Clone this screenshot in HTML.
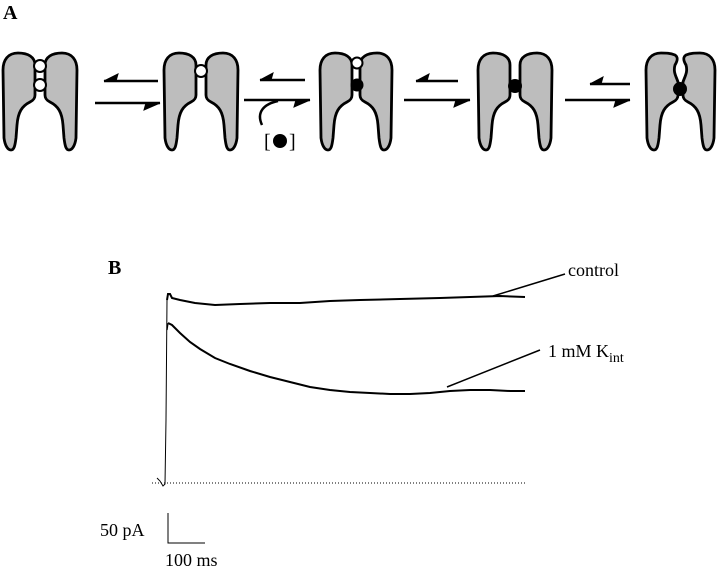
<!DOCTYPE html>
<html><head><style>html,body{margin:0;padding:0;background:#fff;width:720px;height:570px;overflow:hidden}</style></head>
<body>
<svg width="720" height="570" viewBox="0 0 720 570" xmlns="http://www.w3.org/2000/svg">
<defs>
<path id="lobe" d="M -17,53 C -27,53 -32,60 -32,70 L -31,138 C -30,146 -27,150 -24,150 C -21,150 -20,146 -19,138 L -18,125 C -17,112 -13,106 -5,102 C -1,100 0,98 0,95 L 0,65 C 0,57 -7,53 -17,53 Z" fill="#bdbdbd" stroke="#000" stroke-width="2.8"/>
<path id="lobe5" d="M -17,53 C -27,53 -32,60 -32,70 L -31,138 C -30,146 -27,150 -24,150 C -21,150 -20,146 -19,138 L -18,125 C -17,112 -13,106 -5,102 C -1,100 0,98 0,95 L 0,82 C -2,76 -5,72 -3,65 C 0,60 0,57 -3,55 C -8,53 -12,53 -17,53 Z" fill="#bdbdbd" stroke="#000" stroke-width="2.8"/>
</defs>
<text x="3" y="19" font-family="Liberation Serif" font-weight="bold" font-size="20">A</text>
<use href="#lobe" transform="translate(35,0)"/>
<use href="#lobe" transform="translate(45,0) scale(-1,1)"/>
<circle cx="40" cy="66" r="6" fill="#fff" stroke="#000" stroke-width="2"/>
<circle cx="40" cy="85" r="6" fill="#fff" stroke="#000" stroke-width="2"/>
<use href="#lobe" transform="translate(196,0)"/>
<use href="#lobe" transform="translate(206,0) scale(-1,1)"/>
<circle cx="201" cy="71" r="6" fill="#fff" stroke="#000" stroke-width="2"/>
<use href="#lobe" transform="translate(352,0)"/>
<use href="#lobe" transform="translate(360,0) scale(-1,1)"/>
<circle cx="357" cy="63" r="5.5" fill="#fff" stroke="#000" stroke-width="2"/>
<circle cx="357" cy="85" r="6.5" fill="#000"/>
<use href="#lobe" transform="translate(510,0)"/>
<use href="#lobe" transform="translate(520,0) scale(-1,1)"/>
<circle cx="515" cy="86" r="7" fill="#000"/>
<use href="#lobe5" transform="translate(678,0)"/>
<use href="#lobe5" transform="translate(683,0) scale(-1,1)"/>
<circle cx="680" cy="89" r="7" fill="#000"/>
<g fill="#000" stroke="#000" stroke-width="2.5">
<line x1="104" y1="81" x2="158" y2="81"/><path d="M104,81 L118,74 L116,81 Z" stroke-width="1"/>
<line x1="95" y1="103" x2="160" y2="103"/><path d="M160,103 L144,110 L146,103 Z" stroke-width="1"/>
<line x1="260" y1="80" x2="305" y2="80"/><path d="M260,80 L273,73 L271,80 Z" stroke-width="1"/>
<line x1="244" y1="100" x2="310" y2="100"/><path d="M310,100 L294,107 L296,100 Z" stroke-width="1"/>
<path d="M262,125 C256,112 264,104 278,101" fill="none"/>
<line x1="416" y1="81" x2="458" y2="81"/><path d="M416,81 L429,74 L427,81 Z" stroke-width="1"/>
<line x1="404" y1="100" x2="470" y2="100"/><path d="M470,100 L454,107 L456,100 Z" stroke-width="1"/>
<line x1="590" y1="84" x2="630" y2="84"/><path d="M590,84 L603,77 L601,84 Z" stroke-width="1"/>
<line x1="565" y1="100" x2="630" y2="100"/><path d="M630,100 L614,107 L616,100 Z" stroke-width="1"/>
</g>
<text x="264" y="148" font-family="Liberation Serif" font-size="20">[</text>
<circle cx="280" cy="141" r="7" fill="#000"/>
<text x="289" y="148" font-family="Liberation Serif" font-size="20">]</text>

<text x="108" y="274" font-family="Liberation Serif" font-weight="bold" font-size="20">B</text>
<line x1="152" y1="483" x2="527" y2="483" stroke="#000" stroke-width="1" stroke-dasharray="1,2"/>
<polyline fill="none" stroke="#000" stroke-width="1" points="157,478 160,481 163,486 165,484 166,420 167,300"/>
<polyline fill="none" stroke="#000" stroke-width="2" points="167,300 168,294 170,294 172,298 180,300 195,303 215,305 240,304 270,303 300,303 330,301 360,300 400,299 440,298 470,297 500,296 525,297"/>
<polyline fill="none" stroke="#000" stroke-width="2" points="168,323 172,325 180,333 190,342 200,349 215,358 230,364 250,371 270,377 290,382 310,387 330,390 350,392 370,393 390,394 410,394 430,393 450,391 470,390 490,390 510,391 525,391"/>
<line x1="167" y1="330" x2="168" y2="323" stroke="#000" stroke-width="1.3"/>
<line x1="493" y1="296" x2="565" y2="274" stroke="#000" stroke-width="1.5"/>
<line x1="447" y1="387" x2="540" y2="350" stroke="#000" stroke-width="1.5"/>
<text x="568" y="276" font-family="Liberation Serif" font-size="18">control</text>
<text x="548" y="357" font-family="Liberation Serif" font-size="18">1 mM K<tspan font-size="14" dy="5">int</tspan></text>
<polyline fill="none" stroke="#000" stroke-width="1" points="168,513 168,543 205,543"/>
<text x="100" y="536" font-family="Liberation Serif" font-size="18">50 pA</text>
<text x="165" y="566" font-family="Liberation Serif" font-size="18">100 ms</text>
</svg>
</body></html>
